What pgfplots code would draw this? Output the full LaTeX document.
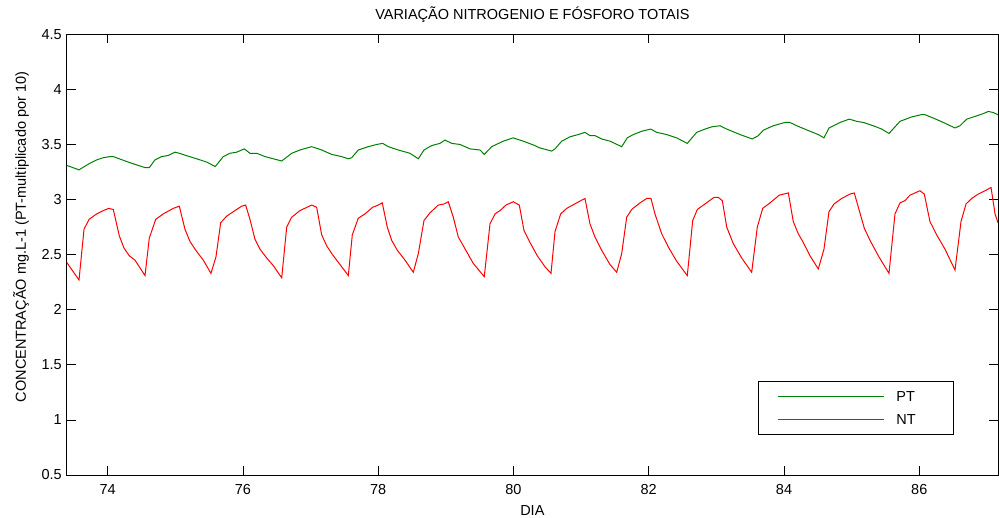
\documentclass[border=0pt]{standalone}
\usepackage{pgfplots}
\pgfplotsset{compat=1.18}
\usepackage{fontspec}
\setmainfont{Liberation Sans}
\definecolor{ptgreen}{rgb}{0,0.5,0}
\begin{document}
\fontsize{14.5}{17.4}\selectfont
\begin{tikzpicture}
\path[use as bounding box] (-66.7pt,-42pt) rectangle (932.3pt,475pt);
\begin{axis}[
  at={(0pt,0pt)}, anchor=south west,
  scale only axis, width=931.3pt, height=440.7pt,
  xmin=73.394, xmax=87.164, ymin=0.5, ymax=4.5,
  xtick={74,76,...,86}, ytick={0.5,1,...,4.5},
  /pgf/number format/assume math mode=true,
  tick align=inside, major tick length=9pt,
  axis line style={line width=0.8pt},
  every tick/.style={black, line width=0.8pt},
  xticklabel style={anchor=base, yshift=-19pt},
  title={VARIAÇÃO NITROGENIO E FÓSFORO TOTAIS},
  title style={at={(axis description cs:0.5,1)}, anchor=base, yshift=9pt},
  xlabel={DIA},
  xlabel style={at={(axis description cs:0.5,0)}, anchor=base, yshift=-40pt},
  ylabel={CONCENTRAÇÃO mg.L-1 (PT-multiplicado por 10)},
  ylabel style={at={(axis description cs:-0.0437,0.54)}, anchor=base},
  legend style={at={(rel axis cs:0.9528,0.0908)}, anchor=south east, draw=black, line width=0.8pt, fill=white,
    inner xsep=20pt, inner ysep=10pt, nodes={inner sep=0pt, text depth=0pt}, column sep=11.7pt, row sep=13.2pt, cells={anchor=west}},
  legend image code/.code={\draw[#1] (0pt,0pt) -- (105.7pt,0pt);},
]
\addplot[ptgreen, line width=1pt] coordinates {
(73.394,3.31) (73.576,3.27) (73.738,3.33) (73.837,3.36) (73.935,3.38) (74.034,3.39) (74.083,3.39) (74.172,3.37) (74.305,3.34) (74.452,3.31) (74.552,3.29) (74.615,3.29) (74.699,3.36) (74.798,3.39) (74.896,3.40) (74.995,3.43) (75.059,3.42) (75.158,3.40) (75.316,3.37) (75.464,3.34) (75.591,3.30) (75.709,3.39) (75.808,3.42) (75.907,3.43) (76.020,3.46) (76.104,3.42) (76.203,3.42) (76.326,3.39) (76.449,3.37) (76.573,3.35) (76.721,3.42) (76.843,3.45) (77.016,3.48) (77.164,3.45) (77.312,3.41) (77.460,3.39) (77.558,3.37) (77.608,3.38) (77.705,3.45) (77.853,3.48) (77.977,3.50) (78.066,3.51) (78.149,3.48) (78.297,3.45) (78.470,3.42) (78.593,3.37) (78.677,3.45) (78.791,3.49) (78.913,3.51) (78.987,3.54) (79.086,3.51) (79.209,3.50) (79.357,3.46) (79.505,3.45) (79.568,3.41) (79.678,3.48) (79.849,3.53) (79.993,3.56) (80.145,3.53) (80.318,3.49) (80.383,3.47) (80.565,3.44) (80.614,3.46) (80.713,3.53) (80.836,3.57) (80.958,3.59) (81.057,3.61) (81.131,3.58) (81.205,3.58) (81.304,3.55) (81.427,3.53) (81.600,3.48) (81.683,3.56) (81.771,3.59) (81.896,3.62) (82.029,3.64) (82.117,3.61) (82.265,3.59) (82.413,3.56) (82.570,3.51) (82.709,3.61) (82.832,3.64) (82.931,3.66) (83.053,3.67) (83.153,3.64) (83.349,3.59) (83.531,3.55) (83.620,3.58) (83.694,3.63) (83.842,3.67) (84.015,3.70) (84.088,3.70) (84.188,3.67) (84.384,3.62) (84.507,3.59) (84.591,3.56) (84.665,3.65) (84.828,3.70) (84.965,3.73) (85.075,3.71) (85.172,3.70) (85.320,3.67) (85.444,3.64) (85.552,3.60) (85.715,3.71) (85.888,3.75) (86.025,3.77) (86.085,3.77) (86.207,3.74) (86.355,3.70) (86.528,3.65) (86.602,3.67) (86.701,3.73) (86.849,3.76) (86.946,3.78) (87.021,3.80) (87.094,3.79) (87.164,3.77)
};
\addlegendentry{\makebox[37.3pt][l]{PT}}
\addplot[red, line width=1pt] coordinates {
(73.394,2.43) (73.576,2.27) (73.650,2.73) (73.724,2.82) (73.837,2.87) (73.935,2.90) (74.015,2.92) (74.083,2.91) (74.172,2.67) (74.241,2.56) (74.319,2.49) (74.404,2.45) (74.552,2.31) (74.615,2.65) (74.710,2.82) (74.822,2.87) (74.970,2.92) (75.059,2.94) (75.143,2.73) (75.217,2.62) (75.291,2.55) (75.414,2.45) (75.527,2.33) (75.601,2.48) (75.671,2.79) (75.760,2.85) (75.882,2.90) (75.981,2.94) (76.040,2.95) (76.104,2.82) (76.178,2.64) (76.252,2.55) (76.351,2.47) (76.449,2.40) (76.573,2.29) (76.647,2.75) (76.721,2.84) (76.843,2.90) (77.016,2.95) (77.090,2.93) (77.164,2.68) (77.238,2.58) (77.336,2.49) (77.460,2.39) (77.558,2.31) (77.617,2.68) (77.705,2.83) (77.804,2.87) (77.918,2.93) (78.001,2.95) (78.060,2.97) (78.134,2.75) (78.199,2.63) (78.282,2.54) (78.396,2.45) (78.519,2.34) (78.593,2.51) (78.677,2.81) (78.766,2.88) (78.888,2.95) (78.973,2.96) (79.036,2.98) (79.110,2.84) (79.184,2.66) (79.258,2.58) (79.406,2.42) (79.568,2.30) (79.653,2.78) (79.727,2.87) (79.801,2.90) (79.889,2.95) (79.997,2.98) (80.086,2.95) (80.155,2.72) (80.244,2.61) (80.352,2.49) (80.466,2.39) (80.555,2.33) (80.614,2.71) (80.698,2.87) (80.787,2.92) (80.935,2.97) (81.057,3.01) (81.131,2.78) (81.205,2.66) (81.304,2.54) (81.427,2.41) (81.526,2.34) (81.600,2.51) (81.674,2.84) (81.748,2.91) (81.871,2.97) (81.970,3.01) (82.033,3.01) (82.092,2.87) (82.191,2.69) (82.289,2.57) (82.413,2.44) (82.570,2.31) (82.650,2.81) (82.718,2.91) (82.832,2.96) (82.965,3.02) (83.028,3.02) (83.088,2.99) (83.153,2.75) (83.250,2.60) (83.374,2.47) (83.522,2.34) (83.605,2.75) (83.685,2.92) (83.793,2.97) (83.930,3.04) (84.064,3.06) (84.137,2.80) (84.211,2.69) (84.285,2.61) (84.384,2.49) (84.507,2.37) (84.591,2.55) (84.665,2.89) (84.739,2.96) (84.853,3.01) (84.976,3.05) (85.039,3.06) (85.113,2.90) (85.187,2.74) (85.271,2.63) (85.394,2.49) (85.552,2.33) (85.641,2.87) (85.715,2.97) (85.789,2.99) (85.863,3.04) (86.010,3.08) (86.074,3.05) (86.158,2.80) (86.257,2.68) (86.380,2.55) (86.528,2.36) (86.617,2.80) (86.691,2.96) (86.775,3.01) (86.872,3.05) (86.972,3.08) (87.061,3.11) (87.120,2.87) (87.164,2.79)
};
\addlegendentry{\makebox[37.3pt][l]{NT}}
\end{axis}
\end{tikzpicture}
\end{document}
